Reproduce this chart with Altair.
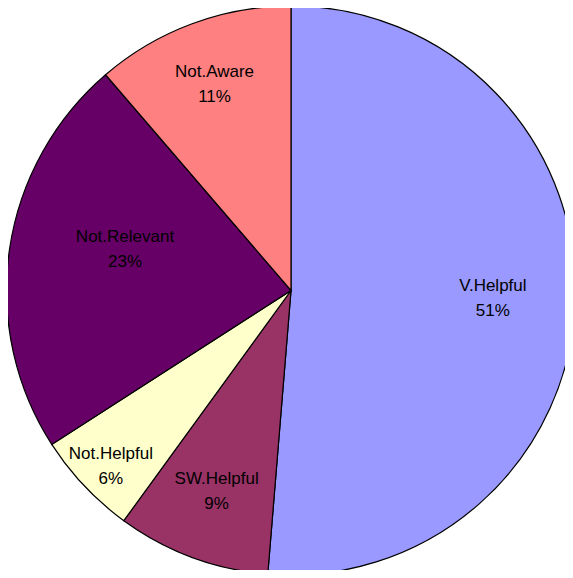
import altair as alt
import pandas as pd

categories = ["V.Helpful", "SW.Helpful", "Not.Helpful", "Not.Relevant", "Not.Aware"]
values = [51.3, 8.7, 5.9, 22.8, 11.3]
pct_labels = ["51%", "9%", "6%", "23%", "11%"]
colors = ["#9999FF", "#993366", "#FFFFCC", "#660066", "#FF8080"]

df = pd.DataFrame({
    "category": categories,
    "value": values,
    "pct": pct_labels,
    "order": list(range(len(categories))),
})

# label placement (distance from centre, angular nudge in degrees)
label_radius = {"V.Helpful": 202, "SW.Helpful": 214, "Not.Helpful": 252,
                "Not.Relevant": 171, "Not.Aware": 220}
label_nudge = {"Not.Relevant": 5.6, "Not.Helpful": -1.0}


def lookup_expr(mapping, default):
    return " : ".join(
        [f"datum.category == '{k}' ? {v}" for k, v in mapping.items()]
    ) + f" : {default}"


cx, cy, R = 283, 282.5, 284.5

pie = alt.Chart(df).mark_arc(stroke="black", strokeWidth=1.2, radius=R).encode(
    theta=alt.Theta("value:Q", stack=True),
    order=alt.Order("order:Q"),
    color=alt.Color("category:N", scale=alt.Scale(domain=categories, range=colors), legend=None),
    x=alt.value(cx), y=alt.value(cy),
)

text = alt.Chart(df).transform_joinaggregate(
    total="sum(value)"
).transform_window(
    cum="sum(value)", sort=[alt.SortField("order")], frame=[None, 0]
).transform_calculate(
    lr=lookup_expr(label_radius, 210),
    nudge=lookup_expr(label_nudge, 0),
    lab="[datum.category, datum.pct]",
).transform_calculate(
    ang="2*PI*(datum.cum - datum.value/2)/datum.total + datum.nudge*PI/180",
).transform_calculate(
    px=f"{cx} + datum.lr*sin(datum.ang)",
    py=f"{cy} - datum.lr*cos(datum.ang)",
).mark_text(
    font="Liberation Sans", fontSize=17, lineHeight=25,
    align="center", baseline="middle", color="black", dy=-12.5,
).encode(
    text=alt.Text("lab:N"),
    x=alt.X("px:Q", scale=None, axis=None),
    y=alt.Y("py:Q", scale=None, axis=None),
)

chart = alt.layer(pie, text).properties(
    width=557, height=562,
    autosize=alt.AutoSizeParams(type="none"),
    padding=0,
).configure_view(stroke=None)

chart.save("out.html", embed_options={"renderer": "svg", "actions": False})
